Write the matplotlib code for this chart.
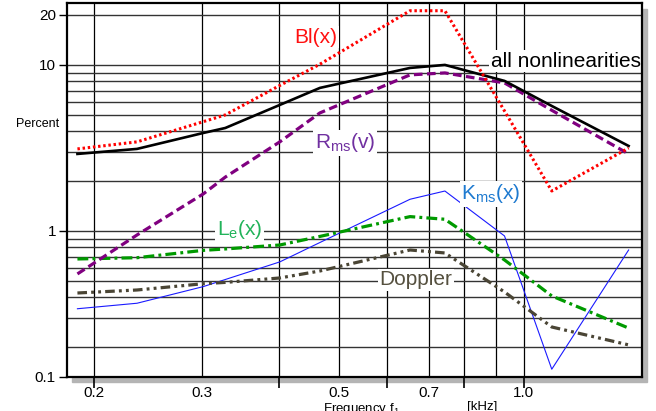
import matplotlib
matplotlib.use("Agg")
from matplotlib import pyplot as plt
from matplotlib.patches import Rectangle

plt.rcParams["font.family"] = ["Liberation Sans", "DejaVu Sans"]
plt.rcParams["mathtext.fontset"] = "custom"
plt.rcParams["mathtext.rm"] = "Liberation Sans"
plt.rcParams["mathtext.it"] = "Liberation Sans:italic"

# frequency in kHz, distortion in percent
freq = [0.188, 0.235, 0.301, 0.327, 0.401, 0.466, 0.653, 0.744, 0.93, 1.11, 1.48]
all_nl = [2.91, 3.12, 3.89, 4.17, 5.74, 7.27, 9.59, 10.0, 8.01, 5.66, 3.25]
bl = [3.12, 3.44, 4.55, 5.0, 7.52, 10.1, 21.2, 21.2, 5.28, 1.74, 3.16]
rms = [0.551, 0.946, 1.67, 2.11, 3.44, 5.14, 8.71, 8.95, 7.79, 5.33, 2.91]
le = [0.678, 0.690, 0.764, 0.779, 0.823, 0.927, 1.22, 1.176, 0.669, 0.406, 0.260]
doppler = [0.423, 0.441, 0.481, 0.49, 0.521, 0.574, 0.768, 0.737, 0.429, 0.264, 0.206]
kms = [0.340, 0.367, 0.462, 0.510, 0.651, 0.852, 1.552, 1.74, 0.933, 0.147, 0.768]

grid_x = [0.2, 0.3, 0.4, 0.5, 0.6, 0.7, 0.8, 0.9, 1.0]
grid_y = [0.2, 0.3, 0.4, 0.5, 0.6, 0.7, 0.8, 0.9, 1, 2, 3, 4, 5, 6, 7, 8, 9, 10, 20]
x_labels = ["0.2", "0.3", "0.5", "0.7", "1.0"]
y_labels = ["0.1", "1", "10", "20"]

X_MIN, X_MAX = 0.1808, 1.556
Y_MIN, Y_MAX = 0.1325, 23.5

fig = plt.figure(figsize=(6.56, 4.11), dpi=100)
ax = fig.add_axes([67 / 656, 1 - 376.7 / 411, 575 / 656, 373.4 / 411])

# grey drop shadow behind the plot box
shadow = Rectangle((72 / 656, 1 - 382 / 411), 575 / 656, 373.4 / 411,
                   transform=fig.transFigure, color="#b4b4b4", zorder=-10)
fig.patches.append(shadow)

ax.set_xscale("log")
ax.set_yscale("log")
ax.set_xlim(X_MIN, X_MAX)
ax.set_ylim(Y_MIN, Y_MAX)

for gx in grid_x:
    ax.axvline(gx, color="black", linewidth=0.9, zorder=1)
for gy in grid_y:
    ax.axhline(gy, color="#333333", linewidth=1.0, zorder=1)

ax.plot(freq, kms, color="#1a1aff", linewidth=0.8, zorder=3)
ax.plot(freq, doppler, color="#4a4535", linewidth=2.3, dashes=(3.0, 1.3, 0.9, 1.3, 0.9, 1.3), zorder=3)
ax.plot(freq, le, color="#009a00", linewidth=2.3, dashes=(3.4, 1.3, 0.9, 1.3), zorder=3)
ax.plot(freq, rms, color="#800080", linewidth=2.3, dashes=(2.7, 1.4), zorder=3)
ax.plot(freq, all_nl, color="black", linewidth=1.9, zorder=3)
ax.plot(freq, bl, color="#ff0000", linewidth=2.2, dashes=(0.8, 0.9), zorder=4)

box = dict(facecolor="white", edgecolor="none", pad=1.0)
ax.text(0.459, 14.7, "Bl(x)", color="#ff1010", fontsize=15, ha="center", va="center", bbox=box, zorder=5)
ax.text(1.17, 10.5, "all nonlinearities", color="black", fontsize=15, ha="center", va="center", bbox=box, zorder=5)
ax.text(0.512, 3.39, r"R$_{\mathrm{ms}}$(v)", color="#7030a0", fontsize=15, ha="center", va="center", bbox=box, zorder=5)
ax.text(0.884, 1.67, r"K$_{\mathrm{ms}}$(x)", color="#1e7ad0", fontsize=15, ha="center", va="center", bbox=box, zorder=5)
ax.text(0.345, 1.014, r"L$_{\mathrm{e}}$(x)", color="#22b35a", fontsize=15, ha="center", va="center", bbox=box, zorder=5)
ax.text(0.667, 0.507, "Doppler", color="#55503f", fontsize=15, ha="center", va="center", bbox=box, zorder=5)

# ticks: marks below the axis at 0.2/0.4/0.6/0.8/1.0, labels at 0.2/0.3/0.5/0.7/1.0
ax.xaxis.remove_overlapping_locs = False
ax.set_xticks([0.2, 0.4, 0.6, 0.8, 1.0])
ax.set_xticklabels(["", "", "", "", ""])
ax.set_xticks([0.2, 0.3, 0.5, 0.7, 1.0], minor=True)
ax.set_xticklabels(x_labels, minor=True)
ax.tick_params(axis="x", which="major", length=8, width=1.2, direction="out")
ax.tick_params(axis="x", which="minor", length=0, pad=7, labelsize=11)

ax.set_yticks([Y_MIN, 1, 10, 20])
ax.set_yticklabels(y_labels)
ax.yaxis.set_minor_locator(plt.NullLocator())
ax.tick_params(axis="y", which="major", length=6, width=1.0, labelsize=11, pad=2)

for spine in ax.spines.values():
    spine.set_linewidth(1.6)
    spine.set_zorder(6)

fig.text(38 / 656, 1 - 124 / 411, "Percent", fontsize=9, ha="center", va="center")
fig.text(323 / 656, 1 - 401 / 411, r"Frequency f$_1$", fontsize=9.5, ha="left", va="top")
fig.text(467 / 656, 1 - 401 / 411, "[kHz]", fontsize=9.5, ha="left", va="top")

fig.savefig("out.png", dpi=100)
